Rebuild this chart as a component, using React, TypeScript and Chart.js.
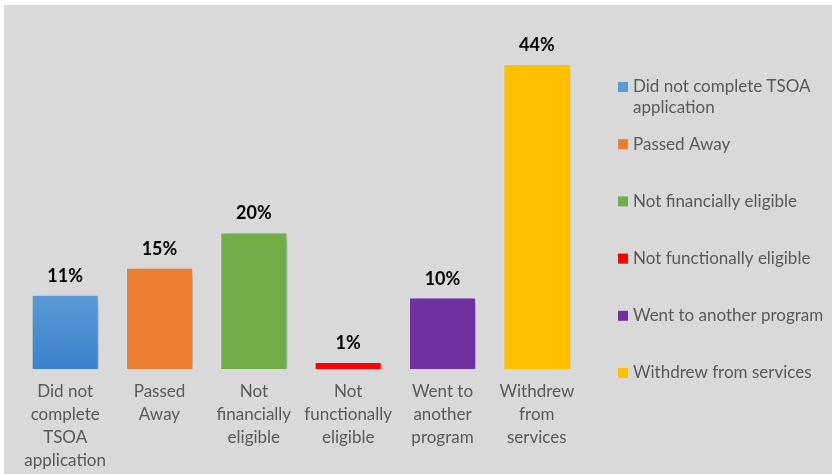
import React, { useEffect, useRef } from "react";
import { Chart, registerables } from "chart.js";

Chart.register(...registerables);

const categories = [
  "Did not complete TSOA application",
  "Passed Away",
  "Not financially eligible",
  "Not functionally eligible",
  "Went to another program",
  "Withdrew from services",
];

const tickLabels = [
  ["Did not", "complete", "TSOA", "application"],
  ["Passed", "Away"],
  ["Not", "financially", "eligible"],
  ["Not", "functionally", "eligible"],
  ["Went to", "another", "program"],
  ["Withdrew", "from", "services"],
];

const values = [10.7, 14.6, 19.7, 1.0, 10.3, 44.0];
const valueLabels = ["11%", "15%", "20%", "1%", "10%", "44%"];

const colors = ["#5b9bd5", "#ed7d31", "#70ad47", "#ff0000", "#7030a0", "#ffc000"];

const FONT = "Lato, 'Open Sans', sans-serif";

const shadowPlugin = {
  id: "barShadow",
  beforeDatasetsDraw(chart: any) {
    const ctx = chart.ctx;
    ctx.save();
    ctx.shadowColor = "rgba(0,0,0,0.22)";
    ctx.shadowBlur = 10;
    ctx.shadowOffsetX = 8;
    ctx.shadowOffsetY = 3;
  },
  afterDatasetsDraw(chart: any) {
    chart.ctx.restore();
  },
};

const valueLabelPlugin = {
  id: "valueLabels",
  afterDatasetsDraw(chart: any) {
    const ctx = chart.ctx;
    const meta = chart.getDatasetMeta(0);
    ctx.save();
    ctx.font = `bold 18px ${FONT}`;
    ctx.fillStyle = "#000000";
    ctx.textAlign = "center";
    ctx.textBaseline = "alphabetic";
    meta.data.forEach((bar: any, i: number) => {
      ctx.fillText(valueLabels[i], bar.x, bar.y - 13);
    });
    ctx.restore();
  },
};

const legendPlugin = {
  id: "sideLegend",
  afterDraw(chart: any) {
    const ctx = chart.ctx;
    const area = chart.chartArea;
    const markerX = area.right + 34;
    const textX = markerX + 15;
    const maxW = chart.width - textX - 2;
    const firstY = 82;
    const step = 57.2;
    const lineH = 21;
    ctx.save();
    ctx.font = `17px ${FONT}`;
    ctx.textBaseline = "middle";
    ctx.textAlign = "left";
    categories.forEach((label, i) => {
      const y = firstY + i * step;
      ctx.fillStyle = colors[i];
      ctx.fillRect(markerX, y - 5, 10, 10);
      const words = label.split(" ");
      const lines: string[] = [];
      let cur = "";
      words.forEach((w) => {
        const test = cur ? cur + " " + w : w;
        if (ctx.measureText(test).width > maxW && cur) {
          lines.push(cur);
          cur = w;
        } else {
          cur = test;
        }
      });
      if (cur) lines.push(cur);
      ctx.fillStyle = "#595959";
      lines.forEach((ln, j) => ctx.fillText(ln, textX, y + j * lineH));
    });
    ctx.restore();
  },
};

export default function App() {
  const ref = useRef<HTMLCanvasElement | null>(null);

  useEffect(() => {
    if (!ref.current) return;
    const chart = new Chart(ref.current, {
      type: "bar",
      data: {
        labels: tickLabels,
        datasets: [
          {
            data: values,
            backgroundColor: (c: any) => {
              const i = c.dataIndex;
              const area = c.chart.chartArea;
              if (i === 0 && area) {
                const g = c.chart.ctx.createLinearGradient(0, area.top, 0, area.bottom);
                g.addColorStop(0, "#6aa7dd");
                g.addColorStop(0.75, "#5b9bd5");
                g.addColorStop(1, "#3a82cc");
                return g;
              }
              return colors[i];
            },
            borderColor: "rgba(255,255,255,0.25)",
            borderWidth: 1,
            barPercentage: 0.711,
            categoryPercentage: 1,
          },
        ],
      },
      options: {
        animation: false,
        responsive: true,
        maintainAspectRatio: false,
        layout: { padding: { left: 14, right: 248, top: 59, bottom: 0 } },
        plugins: {
          legend: { display: false },
          tooltip: { enabled: false },
        },
        scales: {
          x: {
            grid: { display: false },
            border: { display: false },
            ticks: {
              color: "#595959",
              font: { family: FONT, size: 17, lineHeight: 1.353 },
              padding: 3,
              maxRotation: 0,
              autoSkip: false,
            },
          },
          y: {
            display: false,
            min: 0,
            max: 44,
          },
        },
      },
      plugins: [shadowPlugin, valueLabelPlugin, legendPlugin],
    });
    return () => chart.destroy();
  }, []);

  return (
    <div style={{ position: "fixed", left: 0, top: 0, width: 832, height: 474, background: "#ffffff", overflow: "hidden" }}>
      <div style={{ position: "absolute", left: 4, top: 5, width: 828, height: 469, background: "#d9d9d9", overflow: "hidden" }}>
        <div style={{ position: "relative", width: 828, height: 470 }}>
          <canvas ref={ref} />
        </div>
      </div>
    </div>
  );
}
